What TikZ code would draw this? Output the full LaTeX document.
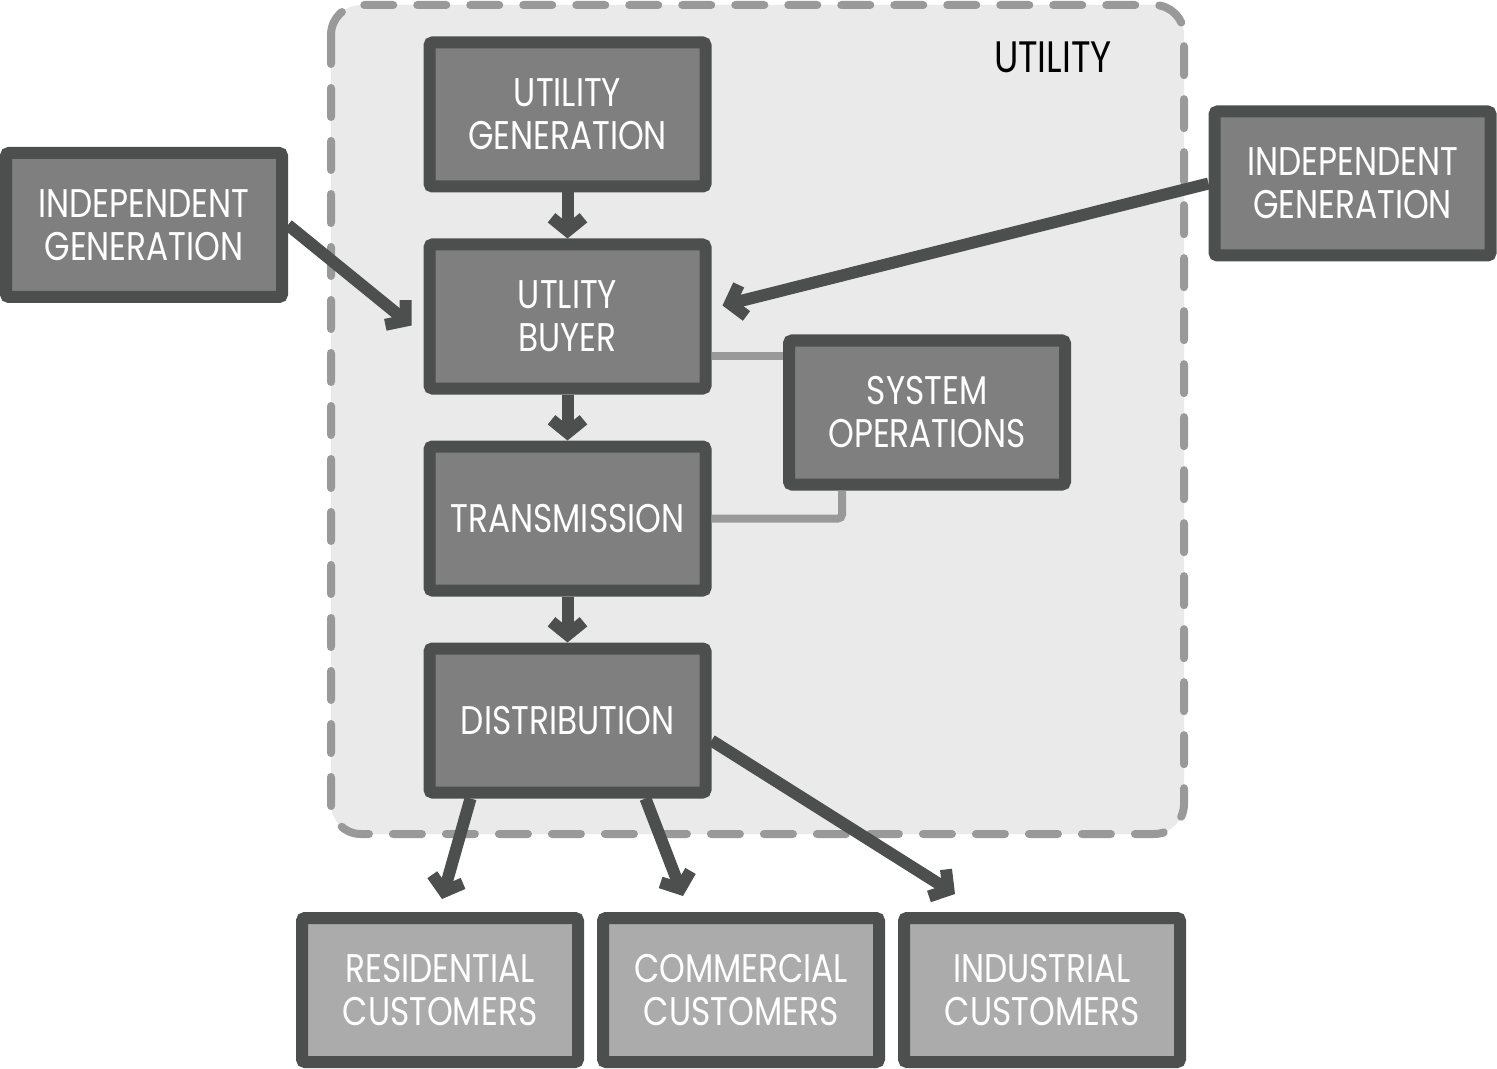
\documentclass[tikz,border=0pt]{standalone}
\usepackage{fontspec}
\setmainfont{Poppins}[FakeStretch=0.82]
\usepackage{tikz}
\usetikzlibrary{positioning,arrows.meta}
\definecolor{boxedge}{HTML}{4D4F4E}
\definecolor{boxfill}{HTML}{7F7F7F}
\definecolor{custfill}{HTML}{ABABAB}
\definecolor{utilfill}{HTML}{EAEAEA}
\definecolor{linkgray}{HTML}{999999}

\begin{document}
\begin{tikzpicture}[x=0.5pt, y=-0.5pt, node distance=23pt,
  stagebox/.style={rectangle, draw=boxedge, fill=boxfill, line width=6pt, rounded corners=1.5pt, minimum width=138pt, minimum height=72pt, text=white, align=center, font=\fontsize{20}{21.5}\selectfont},
  custbox/.style={stagebox, fill=custfill},
  flow/.style={draw=boxedge, line width=6pt, -{Straight Barb[length=6.5pt, width=16pt]}},
  link/.style={draw=linkgray, line width=4pt, rounded corners=2pt}]

\useasboundingbox (0,0) rectangle (1497,1069);
% utility boundary
\draw[linkgray, fill=utilfill, line width=4pt, dash pattern=on 14.5pt off 12pt, line cap=round, rounded corners=15pt] (331,5) rectangle (1184,834);
\node (utility) at (1053,57) [font=\fontsize{22}{24}\selectfont] {UTILITY};

% utility chain
\node (gen) at (567.5,114.5) [stagebox] {UTILITY\\GENERATION};
\node (buyer) [stagebox, below=of gen] {UTLITY\\BUYER};
\node (trans) [stagebox, below=of buyer] {TRANSMISSION};
\node (dist) [stagebox, below=of trans] {DISTRIBUTION};
\node (ops) at (927,412.5) [stagebox] {SYSTEM\\OPERATIONS};

% outside the utility
\node (indleft) at (144,225) [stagebox] {INDEPENDENT\\GENERATION};
\node (indright) at (1352.5,183.5) [stagebox] {INDEPENDENT\\GENERATION};
\node (res) at (440,990) [custbox] {RESIDENTIAL\\CUSTOMERS};
\node (com) [custbox, right=6.5pt of res] {COMMERCIAL\\CUSTOMERS};
\node (ind) [custbox, right=6.5pt of com] {INDUSTRIAL\\CUSTOMERS};

\draw[flow] (gen) -- (buyer);
\draw[flow] (buyer) -- (trans);
\draw[flow] (trans) -- (dist);
\draw[flow] (indleft.east) -- ([xshift=-6pt, yshift=-4.5pt]buyer.west);
\draw[flow] (indright.west) -- ([xshift=5.5pt, yshift=5.5pt]buyer.east);
\draw[flow] ([xshift=-48.5pt]dist.south) -- ([xshift=1pt, yshift=6.5pt]res.north);
\draw[flow] ([xshift=39pt]dist.south) -- ([xshift=-29pt, yshift=8pt]com.north);
\draw[flow] ([yshift=-10pt]dist.east) -- ([xshift=28.5pt, yshift=9pt]ind.north west);

% control links
\coordinate (opstap) at ([yshift=-10.5pt]ops.north west);
\draw[link] (opstap) -- (opstap -| buyer.east);
\coordinate (opsfoot) at ([xshift=29.5pt]ops.south west);
\draw[link] (opsfoot) |- (trans.east);
\end{tikzpicture}
\end{document}
